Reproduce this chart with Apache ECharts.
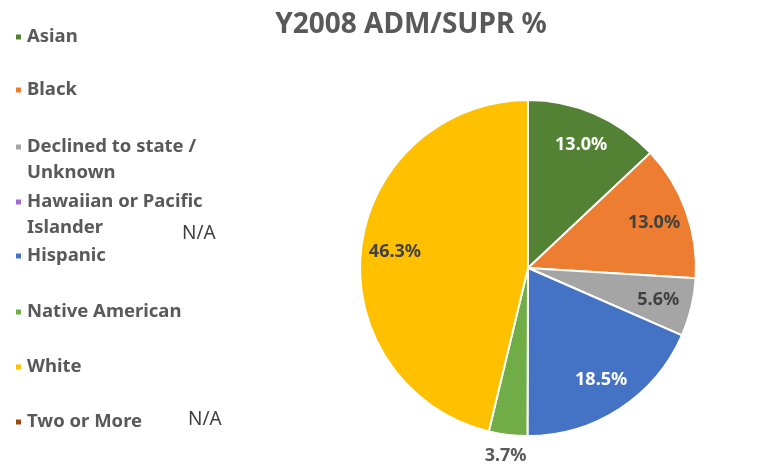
<!DOCTYPE html>
<html>
<head>
<meta charset="utf-8">
<script src="https://cdn.jsdelivr.net/npm/echarts@6/dist/echarts.min.js"></script>
<style>
  html, body { margin: 0; padding: 0; background: #fff; }
  #chart { width: 768px; height: 469px; }
</style>
</head>
<body>
<div id="chart"></div>
<script>
// 数据
var categories = ['Asian', 'Black', 'Declined to state / Unknown', 'Hawaiian or Pacific Islander',
                  'Hispanic', 'Native American', 'White', 'Two or More'];
var percents = [13.0, 13.0, 5.6, 0, 18.5, 3.7, 46.3, 0];
var colors = ['#548235', '#ED7D31', '#A5A5A5', '#A66BD3', '#4472C4', '#70AD47', '#FFC000', '#9E480E'];
var darkLabel = ['Black', 'Declined to state / Unknown', 'White', 'Native American'];
var outsideLabel = ['Native American'];

// 图例位置 (每项第一行中心)
var legendY = [37, 90, 147, 202, 256, 312, 367, 422];
// 两行的图例: 前面加一个空行, 让图标对齐第一行
var twoLine = { 'Declined to state / Unknown': ' \nDeclined to state /\nUnknown',
                'Hawaiian or Pacific Islander': ' \nHawaiian or Pacific\nIslander' };

var myChart = echarts.init(document.getElementById('chart'));

var legends = categories.map(function(name, i) {
  var multi = !!twoLine[name];
  return {
    orient: 'vertical',
    left: 14,
    top: legendY[i] - (multi ? 39 : 13),
    padding: 0,
    itemWidth: 7,
    itemHeight: 7,
    itemGap: 6,
    icon: 'rect',
    selectedMode: false,
    data: [name],
    formatter: function(n) { return twoLine[n] || n; },
    textStyle: {
      fontFamily: 'Noto Sans',
      fontWeight: 'bold',
      fontSize: 18.5,
      lineHeight: 26,
      color: '#595959'
    }
  };
});

var baseData = categories.map(function(name, i) {
  return { name: name, value: percents[i], itemStyle: { color: colors[i] } };
});

var labelData = categories.map(function(name, i) {
  var item = { name: name, value: percents[i] };
  item.label = {
    show: percents[i] > 0,
    color: darkLabel.indexOf(name) >= 0 ? '#404040' : '#ffffff'
  };
  if (outsideLabel.indexOf(name) >= 0) {
    item.label.position = 'outside';
    item.label.color = '#595959';
    item.labelLine = { show: false, length: 21, length2: -26 };
  }
  return item;
});

var option = {
  animation: false,
  color: colors,
  title: {
    text: 'Y2008 ADM/SUPR %',
    left: 406,
    textAlign: 'center',
    top: 6,
    textStyle: { fontFamily: 'Noto Sans', fontWeight: 'bold', fontSize: 28, color: '#595959' }
  },
  legend: legends,
  graphic: [
    { type: 'text', left: 182, top: 224, style: { text: 'N/A', fontFamily: 'Noto Sans', fontSize: 19, fill: '#404040' } },
    { type: 'text', left: 188, top: 410, style: { text: 'N/A', fontFamily: 'Noto Sans', fontSize: 19, fill: '#404040' } }
  ],
  series: [
    {
      type: 'pie',
      center: [528, 268],
      radius: [0, 168],
      startAngle: 90,
      silent: true,
      label: { show: false },
      labelLine: { show: false },
      itemStyle: { borderColor: '#ffffff', borderWidth: 2 },
      data: baseData
    },
    {
      // 标签层
      type: 'pie',
      center: [528, 268],
      radius: [94, 168],
      startAngle: 90,
      silent: true,
      itemStyle: { color: 'transparent' },
      labelLine: { show: false },
      label: {
        position: 'inside',
        fontFamily: 'Noto Sans',
        fontWeight: 'bold',
        fontSize: 18,
        formatter: function(p) { return p.value.toFixed(1) + '%'; }
      },
      data: labelData
    }
  ]
};

myChart.setOption(option);
</script>
</body>
</html>
